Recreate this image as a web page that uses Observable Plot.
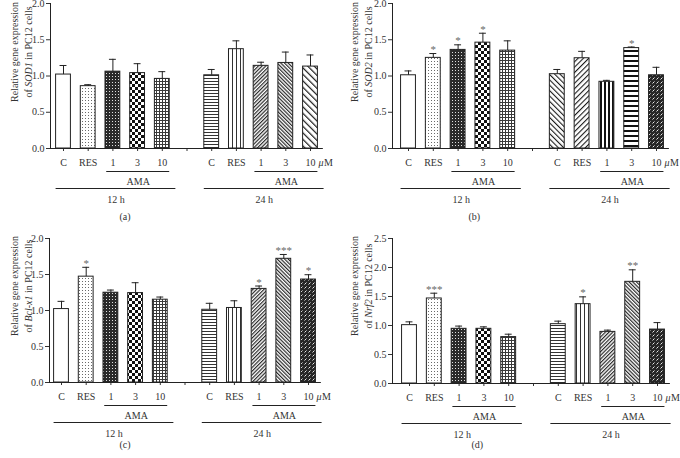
<!DOCTYPE html>
<html>
<head>
<meta charset="utf-8">
<script src="https://cdn.jsdelivr.net/npm/d3@7"></script>
<script src="https://cdn.jsdelivr.net/npm/@observablehq/plot@0.6"></script>
<style>
  html, body { margin: 0; padding: 0; background: #fff; }
  #fig { position: relative; width: 680px; height: 458px; overflow: hidden; background: #fff; }
</style>
</head>
<body>
<svg width="0" height="0" style="position:absolute">
  <defs>
    <pattern id="p-dots" width="3" height="3" patternUnits="userSpaceOnUse">
      <rect width="3" height="3" fill="#fff"/><rect x="1" y="1" width="1" height="1" fill="#6a6a6a"/>
    </pattern>
    <pattern id="p-dark" width="3" height="3" patternUnits="userSpaceOnUse">
      <rect width="3" height="3" fill="#2a2a2a"/><rect x="1" y="1" width="1" height="1" fill="#e0e0e0"/>
    </pattern>
    <pattern id="p-checker" width="6" height="6" patternUnits="userSpaceOnUse">
      <rect width="6" height="6" fill="#fff"/><rect width="3" height="3" fill="#111"/><rect x="3" y="3" width="3" height="3" fill="#111"/>
    </pattern>
    <pattern id="p-grid" width="3" height="3" patternUnits="userSpaceOnUse">
      <rect width="3" height="3" fill="#fff"/><rect width="3" height="1" fill="#3a3a3a"/><rect width="1" height="3" fill="#3a3a3a"/>
    </pattern>
    <pattern id="p-hlines" width="4" height="3" patternUnits="userSpaceOnUse">
      <rect width="4" height="3" fill="#fff"/><rect width="4" height="1" fill="#333"/>
    </pattern>
    <pattern id="p-vlines" width="4" height="4" patternUnits="userSpaceOnUse">
      <rect width="4" height="4" fill="#fff"/><rect width="1" height="4" fill="#333"/>
    </pattern>
    <pattern id="p-diagR-dense" width="2.6" height="2.6" patternUnits="userSpaceOnUse" patternTransform="rotate(45)">
      <rect width="2.6" height="2.6" fill="#fff"/><rect width="1.2" height="2.6" fill="#2a2a2a"/>
    </pattern>
    <pattern id="p-diagL-dense" width="2.6" height="2.6" patternUnits="userSpaceOnUse" patternTransform="rotate(-45)">
      <rect width="2.6" height="2.6" fill="#fff"/><rect width="1.2" height="2.6" fill="#2a2a2a"/>
    </pattern>
    <pattern id="p-diagL-sparse" width="4.6" height="4.6" patternUnits="userSpaceOnUse" patternTransform="rotate(-45)">
      <rect width="4.6" height="4.6" fill="#fff"/><rect width="1.2" height="4.6" fill="#1a1a1a"/>
    </pattern>
    <pattern id="p-diagL-mid" width="3.8" height="3.8" patternUnits="userSpaceOnUse" patternTransform="rotate(-45)">
      <rect width="3.8" height="3.8" fill="#fff"/><rect width="1.1" height="3.8" fill="#1a1a1a"/>
    </pattern>
    <pattern id="p-diagR-mid" width="3.8" height="3.8" patternUnits="userSpaceOnUse" patternTransform="rotate(45)">
      <rect width="3.8" height="3.8" fill="#fff"/><rect width="1.1" height="3.8" fill="#1a1a1a"/>
    </pattern>
    <pattern id="p-vbars" width="4" height="4" patternUnits="userSpaceOnUse">
      <rect width="4" height="4" fill="#fff"/><rect width="2" height="4" fill="#111"/>
    </pattern>
    <pattern id="p-hbars" width="5" height="5" patternUnits="userSpaceOnUse">
      <rect width="5" height="5" fill="#fff"/><rect width="5" height="2" fill="#111"/>
    </pattern>
    <pattern id="p-zigzag" width="4" height="4" patternUnits="userSpaceOnUse">
      <rect width="4" height="4" fill="#262626"/><path d="M0.5,3.5 L2.5,1.5" stroke="#e8e8e8" stroke-width="1"/>
    </pattern>
  </defs>
</svg>
<div id="fig"></div>
<script>
// ---------- data ----------
const treatments = ["C", "RES", "1", "3", "10", "C", "RES", "1", "3", "10"];
const timeGroups = ["12 h", "24 h"];
const amaLabel = "AMA";

const sod1Mean = [1.02, 0.86, 1.06, 1.04, 0.96, 1.01, 1.37, 1.14, 1.18, 1.13];
const sod1Sem  = [0.125, 0.02, 0.17, 0.13, 0.10, 0.08, 0.115, 0.05, 0.15, 0.16];
const sod1Sig  = ["", "", "", "", "", "", "", "", "", ""];

const sod2Mean = [1.01, 1.25, 1.36, 1.46, 1.35, 1.025, 1.245, 0.92, 1.385, 1.01];
const sod2Sem  = [0.06, 0.06, 0.07, 0.13, 0.135, 0.065, 0.095, 0.02, 0.015, 0.11];
const sod2Sig  = ["", "*", "*", "*", "", "", "", "", "*", ""];

const bclMean = [1.02, 1.47, 1.247, 1.242, 1.15, 1.01, 1.035, 1.30, 1.718, 1.43];
const bclSem  = [0.107, 0.13, 0.037, 0.144, 0.037, 0.09, 0.10, 0.04, 0.06, 0.067];
const bclSig  = ["", "*", "", "", "", "", "", "*", "***", "*"];

const nrfMean = [1.006, 1.466, 0.943, 0.943, 0.80, 1.023, 1.368, 0.89, 1.753, 0.93];
const nrfSem  = [0.057, 0.091, 0.047, 0.034, 0.05, 0.052, 0.126, 0.03, 0.207, 0.12];
const nrfSig  = ["", "***", "", "", "", "", "*", "", "**", ""];

const yTicksA = [0, 0.5, 1.0, 1.5, 2.0];
const yTicksD = [0, 0.5, 1.0, 1.5, 2.0, 2.5];

// ---------- styles ----------
const fills12 = ["#fff", "url(#p-dots)", "url(#p-dark)", "url(#p-checker)", "url(#p-grid)"];
const fillsA24 = ["url(#p-hlines)", "url(#p-vlines)", "url(#p-diagR-dense)", "url(#p-diagL-dense)", "url(#p-diagL-sparse)"];
const fillsB24 = ["url(#p-diagL-mid)", "url(#p-diagR-mid)", "url(#p-vbars)", "url(#p-hbars)", "url(#p-zigzag)"];
const fillsC24 = ["url(#p-hlines)", "url(#p-vlines)", "url(#p-diagR-dense)", "url(#p-diagL-dense)", "url(#p-zigzag)"];

const INK = "#222";
const TXT = "#333";
const FONT = "'Liberation Serif', 'Times New Roman', serif";

function panel(cfg) {
  const {means, sems, sigs, fills, yMax, yTicks, gene, letter, lay} = cfg;
  const W = 340, H = 229;
  const posOf = i => (i < 5 ? i : i + 1);
  const data = means.map((m, i) => ({
    pos: posOf(i), mean: m, upper: m + sems[i], sig: sigs[i], fill: fills[i]
  }));
  const tickText = [...treatments.slice(0, 5), "", ...treatments.slice(5)];
  const step = (lay.last - lay.first) / 10;
  const x0 = (lay.axis - lay.first) / step;
  const xEnd = 10.52;
  const marginRight = W - (lay.first + xEnd * step);
  const groups = timeGroups.map((g, k) => {
    const base = k * 5;
    return {
      label: g,
      g1: posOf(base) - 0.3, g2: posOf(base + 4) + 0.55,
      a1: posOf(base + 2) - 0.25, a2: posOf(base + 4) + 0.3
    };
  });
  const half = 0.3, cap = 0.14;
  const plot = Plot.plot({
    width: W, height: H,
    marginLeft: lay.axis, marginRight, marginTop: lay.top, marginBottom: H - lay.bottom,
    style: {fontFamily: FONT, fontSize: "10px", color: TXT, background: "transparent", overflow: "visible"},
    color: {type: "identity"},
    x: {domain: [x0, xEnd], ticks: d3.range(11), tickFormat: p => tickText[p], tickSize: 3, tickPadding: 7, label: null},
    y: {domain: [0, yMax], ticks: yTicks, tickFormat: d3.format(".1f"), tickSize: 4, tickPadding: 2, label: null},
    marks: [
      Plot.rectY(data, {x1: d => d.pos - half, x2: d => d.pos + half, y1: 0, y2: "mean", fill: "fill", stroke: INK, strokeWidth: 1}),
      Plot.ruleX(data, {x: "pos", y1: "mean", y2: "upper", stroke: INK, strokeWidth: 1}),
      Plot.ruleY(data, {y: "upper", x1: d => d.pos - cap, x2: d => d.pos + cap, stroke: INK, strokeWidth: 1}),
      Plot.text(data.filter(d => d.sig), {x: "pos", y: "upper", text: "sig", dy: -4, fill: "#666", fontSize: 11}),
      Plot.ruleY([0], {stroke: INK, strokeWidth: 1}),
      Plot.ruleX([x0], {stroke: INK, strokeWidth: 1}),
      Plot.text(["μ"], {x: 10, y: 0, dx: 8, dy: 14, textAnchor: "start", fontStyle: "italic", fill: TXT}),
      Plot.text(["M"], {x: 10, y: 0, dx: 13.5, dy: 14, textAnchor: "start", fill: TXT}),
      Plot.ruleY(groups, {y: 0, x1: "a1", x2: "a2", dy: 23, stroke: INK, strokeWidth: 1}),
      Plot.text(groups, {x: d => (d.a1 + d.a2) / 2, y: 0, text: () => amaLabel, dy: 33, fill: TXT}),
      Plot.ruleY(groups, {y: 0, x1: "g1", x2: "g2", dy: 40, stroke: INK, strokeWidth: 1}),
      Plot.text(groups, {x: d => (d.g1 + d.g2) / 2, y: 0, text: "label", dy: 51, fill: TXT}),
      Plot.text([letter], {frameAnchor: "bottom-left", dx: lay.capX - lay.axis, dy: lay.capDy, fill: TXT})
    ]
  });
  plot.style.position = "absolute";
  plot.style.margin = "0";
  plot.style.left = lay.left + "px";
  plot.style.top = lay.topOff + "px";
  // two-line y-axis title, gene name in italics
  const svgEl = plot.tagName.toLowerCase() === "svg" ? plot : plot.querySelector("svg");
  const svg = d3.select(svgEl);
  const cy = lay.titleY;
  svg.append("text")
    .attr("transform", `translate(14.5,${cy}) rotate(-90)`)
    .attr("text-anchor", "middle").attr("dy", "0.32em")
    .attr("fill", TXT).attr("font-family", FONT).attr("font-size", 10)
    .text("Relative gene expression");
  const t2 = svg.append("text")
    .attr("transform", `translate(28.5,${cy}) rotate(-90)`)
    .attr("text-anchor", "middle").attr("dy", "0.32em")
    .attr("fill", TXT).attr("font-family", FONT).attr("font-size", 10);
  t2.append("tspan").text("of ");
  t2.append("tspan").attr("font-style", "italic").text(gene);
  t2.append("tspan").text(" in PC12 cells");
  return plot;
}

const fig = document.getElementById("fig");
fig.append(panel({
  means: sod1Mean, sems: sod1Sem, sigs: sod1Sig, fills: [...fills12, ...fillsA24],
  yMax: 2, yTicks: yTicksA, gene: "SOD1", letter: "(a)",
  lay: {left: 0, topOff: 0, axis: 50, first: 63, last: 310, top: 3, bottom: 148, capX: 119, capDy: 71, titleY: 52}
}));
fig.append(panel({
  means: sod2Mean, sems: sod2Sem, sigs: sod2Sig, fills: [...fills12, ...fillsB24],
  yMax: 2, yTicks: yTicksA, gene: "SOD2", letter: "(b)",
  lay: {left: 340, topOff: 0, axis: 52, first: 68, last: 316, top: 3, bottom: 148, capX: 128, capDy: 71, titleY: 52}
}));
fig.append(panel({
  means: bclMean, sems: bclSem, sigs: bclSig, fills: [...fills12, ...fillsC24],
  yMax: 2, yTicks: yTicksA, gene: "Bcl-x1", letter: "(c)",
  lay: {left: 0, topOff: 229, axis: 49, first: 61, last: 308, top: 9, bottom: 153, capX: 119, capDy: 65, titleY: 57}
}));
fig.append(panel({
  means: nrfMean, sems: nrfSem, sigs: nrfSig, fills: [...fills12, ...fillsC24],
  yMax: 2.5, yTicks: yTicksD, gene: "Nrf2", letter: "(d)",
  lay: {left: 340, topOff: 229, axis: 52, first: 69, last: 317, top: 9, bottom: 154, capX: 131, capDy: 64, titleY: 57}
}));
</script>
</body>
</html>
